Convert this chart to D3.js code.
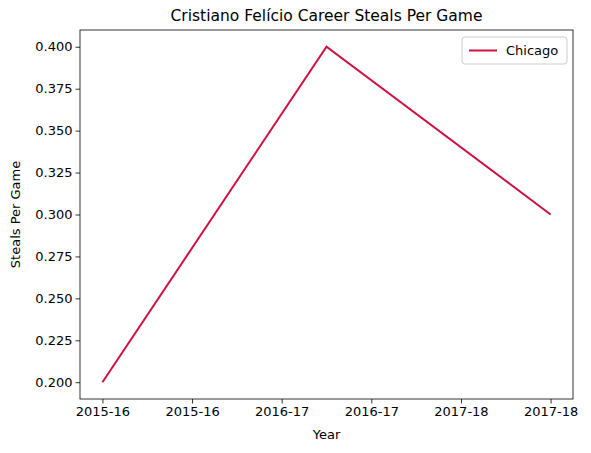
<!DOCTYPE html>
<html><head><meta charset="utf-8">
<script src="https://cdn.jsdelivr.net/npm/d3@7"></script>
<style>body{margin:0;background:#fff}text{font-family:"DejaVu Sans",sans-serif}</style>
</head><body><div id="chart"></div>
<script>
// data
const seasons = ["2015-16", "2016-17", "2017-18"];
const steals = [0.2, 0.4, 0.3];
const xTicks = [0, 0.4, 0.8, 1.2, 1.6, 2.0];
const yTicks = [0.2, 0.225, 0.25, 0.275, 0.3, 0.325, 0.35, 0.375, 0.4];

const W = 591, H = 453;
const margin = {top: 30, right: 18, bottom: 54, left: 80};
const width = W - margin.left - margin.right,
    height = H - margin.top - margin.bottom;

const svg = d3.select("#chart").append("svg")
    .attr("width", W).attr("height", H);
const g = svg.append("g").attr("transform", `translate(${margin.left},${margin.top})`);

const x = d3.scaleLinear().domain([-0.1, 2.1]).range([0, width]);
const y = d3.scaleLinear().domain([0.19, 0.41]).range([height, 0]);

// axes
const xAxis = g.append("g").attr("transform", `translate(0,${height})`)
  .call(d3.axisBottom(x).tickValues(xTicks).tickSize(4.5).tickPadding(3)
    .tickFormat(d => seasons[Math.round(d)]));
const yAxis = g.append("g")
  .call(d3.axisLeft(y).tickValues(yTicks).tickSize(4.5).tickPadding(3)
    .tickFormat(d3.format(".3f")));
[xAxis, yAxis].forEach(a => {
  a.select(".domain").remove();
  a.selectAll("text").attr("font-size", 13).attr("fill", "#000");
  a.selectAll("line").attr("stroke", "#000").attr("stroke-width", 0.8);
});

g.append("rect").attr("width", width).attr("height", height)
  .attr("fill", "none").attr("stroke", "#000").attr("stroke-width", 0.8);

// line
const line = d3.line().x((d, i) => x(i)).y(d => y(d));
g.append("path").datum(steals).attr("d", line)
  .attr("fill", "none").attr("stroke", "#CE1141").attr("stroke-width", 2);

// labels
svg.append("text").attr("x", margin.left + width / 2).attr("y", 21)
  .attr("text-anchor", "middle").attr("font-size", 15.5)
  .text("Cristiano Felício Career Steals Per Game");
svg.append("text").attr("x", margin.left + width / 2).attr("y", 439)
  .attr("text-anchor", "middle").attr("font-size", 13).text("Year");
svg.append("text").attr("transform", `translate(20,${margin.top + height / 2}) rotate(-90)`)
  .attr("text-anchor", "middle").attr("font-size", 13).text("Steals Per Game");

// legend
const lg = g.append("g").attr("transform", `translate(${width - 111},7)`);
lg.append("rect").attr("width", 105).attr("height", 27).attr("rx", 3)
  .attr("fill", "#fff").attr("stroke", "#ccc");
lg.append("line").attr("x1", 7).attr("x2", 35).attr("y1", 13.5).attr("y2", 13.5)
  .attr("stroke", "#CE1141").attr("stroke-width", 2);
lg.append("text").attr("x", 44).attr("y", 18).attr("font-size", 13).text("Chicago");
</script></body></html>
